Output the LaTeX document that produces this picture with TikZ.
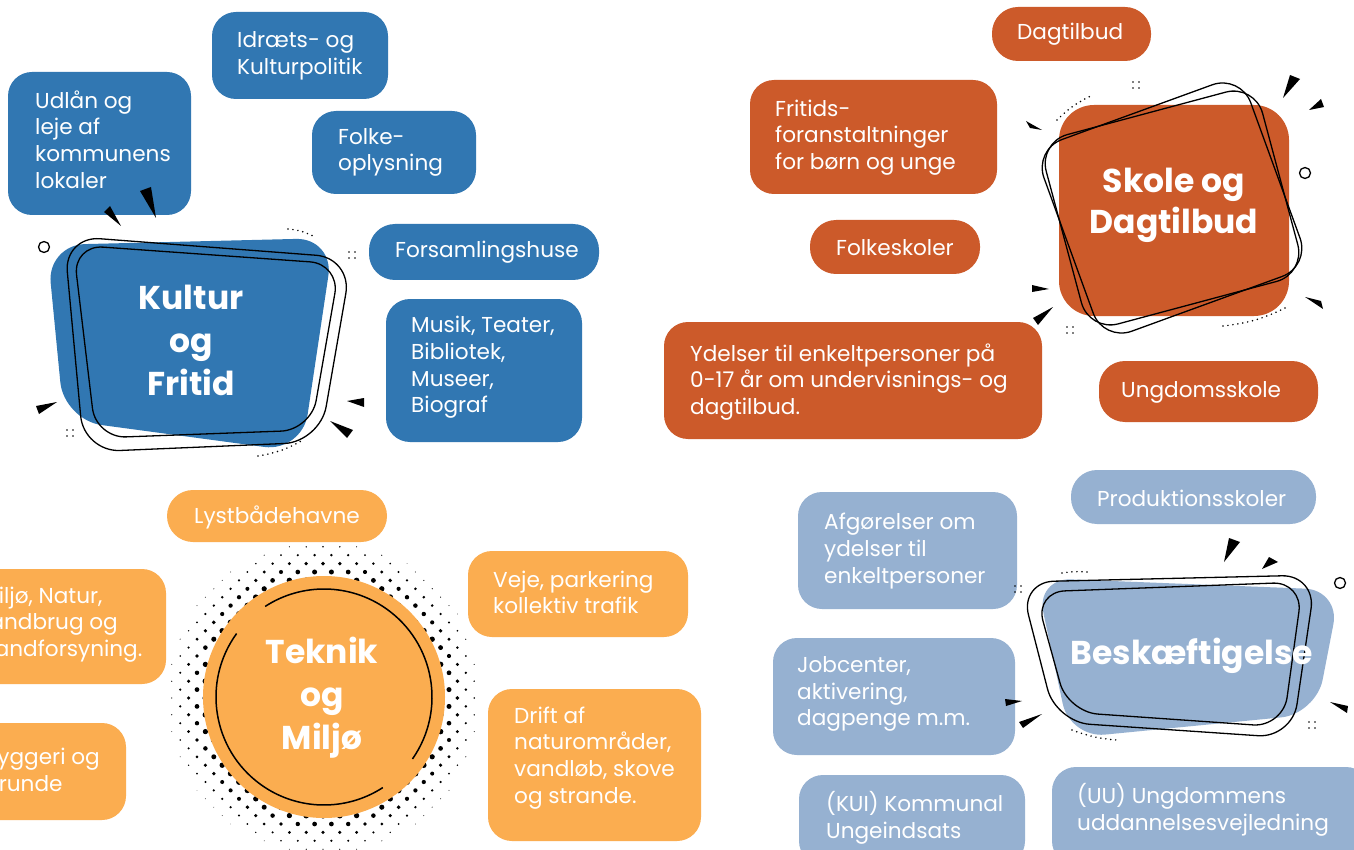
\documentclass[tikz,border=0pt]{standalone}
\usepackage{fontspec}
\setmainfont{Poppins}
\usetikzlibrary{fit}
\definecolor{kblue}{RGB}{49,119,178}
\definecolor{sorange}{RGB}{204,90,42}
\definecolor{torange}{RGB}{251,173,80}
\definecolor{bblue}{RGB}{150,177,209}
\newcommand\bodyfont{\fontsize{21.6}{26.7}\selectfont}
\newcommand\headfont{\fontsize{33}{43}\selectfont\bfseries}
\newcommand\spk[3]{\fill #1 -- #2 -- #3 -- cycle;}
\newcommand\stard[2]{\foreach \sa/\sb in {-3/-3,3/-3,-3/3,3/3}{\fill (#1+\sa,#2+\sb) circle (0.9);}}
\newcommand\tbox[6]{\node[#2, fit={#3 #4}] (#1bg) {}; \node[txt] (#1) at #5 {#6};}
\tikzset{
 boxbg/.style={inner sep=0pt, rounded corners=24},
 pillbg/.style={inner sep=0pt, rounded corners=26},
 txt/.style={text=white, font=\bodyfont, align=left, anchor=west, inner sep=0pt, yshift=-1.5pt},
 head/.style={text=white, font=\headfont, align=center, inner sep=0pt},
 frame/.style={draw=black, line width=1.3pt},
 dotarc/.style={dash pattern=on 0pt off 5pt, line cap=round, line width=1.7pt},
}
\begin{document}
\begin{tikzpicture}[x=1pt,y=-1pt]
\useasboundingbox (0,0) rectangle (1354,850);
\fill[white] (0,0) rectangle (1354,850);

% ================= Kultur og Fritid =================
\tbox{idr}{boxbg,fill=kblue}{(212,12)}{(388,99)}{(237,54.5)}{Idræts- og\\Kulturpolitik}
\tbox{udl}{boxbg,fill=kblue}{(8,72)}{(191,215)}{(35,138)}{Udlån og\\leje af\\kommunens\\lokaler}
\tbox{fol}{boxbg,fill=kblue}{(312,111)}{(476,194)}{(338,151)}{Folke-\\oplysning}
\tbox{fors}{pillbg,fill=kblue}{(369,224)}{(599,280)}{(395,251)}{Forsamlingshuse}
\tbox{mus}{boxbg,fill=kblue}{(386,299)}{(582,442)}{(411,366)}{Musik, Teater,\\Bibliotek,\\Museer,\\Biograf}

\fill[kblue, rounded corners=38] (47,245) -- (334,238) -- (302,452) -- (64,420) -- cycle;
\draw[frame, rounded corners=36] (64,236) -- (352,258) -- (320,442) -- (84,452) -- cycle;
\draw[frame, rounded corners=30] (73,245) -- (340,264) -- (311,430) -- (96,438) -- cycle;
\node[head] (kul) at (191,340) {Kultur\\og\\Fritid};
\draw[line width=1.3pt] (44,247) circle (5.5);
\spk{(121,226)}{(104,212)}{(110,206)}
\spk{(156,218)}{(140,191)}{(151,187)}
\spk{(57,402)}{(36,406)}{(39,414)}
\spk{(347,401)}{(364,398)}{(364,407)}
\spk{(330,421)}{(347,438)}{(353,430)}
\draw[dotarc] (288,229) to[bend left=10] (313,236);
\draw[dotarc] (258,456) to[bend right=10] (303,440);
\stard{352}{255}
\stard{70}{433}

% ================= Skole og Dagtilbud =================
\tbox{dag}{pillbg,fill=sorange}{(992,7)}{(1151,61)}{(1017,33)}{Dagtilbud}
\tbox{frit}{boxbg,fill=sorange}{(750,80)}{(997,194)}{(775,136)}{Fritids-\\foranstaltninger\\for børn og unge}
\tbox{fsk}{pillbg,fill=sorange}{(810,220)}{(980,274)}{(836,246)}{Folkeskoler}
\tbox{yde}{boxbg,fill=sorange}{(664,322)}{(1042,439)}{(690,380.5)}{Ydelser til enkeltpersoner på\\0-17 år om undervisnings- og\\dagtilbud.}
\tbox{ung}{pillbg,fill=sorange}{(1099,361)}{(1318,422)}{(1121,391)}{Ungdomsskole}

\fill[sorange, rounded corners=35] (1059,105) rectangle (1289,316);
\draw[frame, rounded corners=30, rotate around={15:(1172,208)}] (1060,110) rectangle (1284,306);
\draw[frame, rounded corners=30, rotate around={20:(1172,208)}] (1062,106) rectangle (1282,310);
\node[head] (sko) at (1174,205) {Skole og\\[-2pt]Dagtilbud};
\draw[line width=1.3pt] (1305,173) circle (5.5);
\spk{(1283,98)}{(1290,75)}{(1300,79)}
\spk{(1309,110)}{(1321,99)}{(1324,107)}
\spk{(1042,130)}{(1026,121)}{(1030,128)}
\spk{(1049,289)}{(1032,285)}{(1032,292)}
\spk{(1053,307)}{(1033,318)}{(1038,325)}
\spk{(1305,297)}{(1321,301)}{(1323,309)}
\draw[dotarc] (1057,120) to[bend left=10] (1093,95);
\draw[dotarc] (1223,326) to[bend right=10] (1287,307);
\stard{1136}{85}
\stard{1070}{330}

% ================= Teknik og Miljø =================
\tbox{lyst}{pillbg,fill=torange}{(167,490)}{(387,542)}{(194,516)}{Lystbådehavne}
\tbox{milj}{boxbg,fill=torange}{(-47,569)}{(166,684)}{(-20,623)}{Miljø, Natur,\\Landbrug og\\Vandforsyning.}
\tbox{bygg}{boxbg,fill=torange}{(-41,723)}{(126,820)}{(-16,771)}{Byggeri og\\grunde}
\tbox{veje}{boxbg,fill=torange}{(468,551)}{(688,637)}{(493,591)}{Veje, parkering\\kollektiv trafik}
\tbox{drift}{boxbg,fill=torange}{(488,689)}{(701,841)}{(514,756.5)}{Drift af\\naturområder,\\vandløb, skove\\og strande.}

\foreach \i in {0,...,20}{
 \foreach \j in {0,...,40}{
  \pgfmathsetmacro\px{155+16.8*\i+8.4*mod(\j,2)}
  \pgfmathsetmacro\py{530+8.4*\j}
  \pgfmathsetmacro\dd{veclen(\px-324,\py-697)}
  \ifdim\dd pt<158pt \ifdim\dd pt>115pt
   \pgfmathsetmacro\rr{0.3+2.5*(158-\dd)/37}
   \fill (\px,\py) circle (\rr);
  \fi\fi
 }}
\node[circle, fill=torange, minimum size=242, inner sep=0pt] (tekc) at (324,697) {};
\draw[line width=1.5pt] (tekc.center) ++(216:108) arc[start angle=216, end angle=57, radius=108];
\draw[line width=1.5pt] (tekc.center) ++(35:108) arc[start angle=35, end angle=-123, radius=108];
\node[head] (tek) at (322,698) {Teknik\\og\\Miljø};

% ================= Beskæftigelse =================
\tbox{prod}{pillbg,fill=bblue}{(1071,470)}{(1316,524)}{(1097,497)}{Produktionsskoler}
\tbox{afg}{boxbg,fill=bblue}{(798,492)}{(1017,609)}{(824,549.5)}{Afgørelser om\\ydelser til\\enkeltpersoner}
\tbox{job}{boxbg,fill=bblue}{(773,638)}{(1015,755)}{(797,692.5)}{Jobcenter,\\aktivering,\\dagpenge m.m.}
\tbox{kui}{boxbg,fill=bblue}{(799,775)}{(1025,865)}{(826,816)}{(KUI) Kommunal\\Ungeindsats}
\tbox{uu}{boxbg,fill=bblue}{(1052,767)}{(1370,865)}{(1077,808)}{(UU) Ungdommens\\uddannelsesvejledning}

\fill[bblue, rounded corners=35] (1036,578) -- (1340,590) -- (1316,714) -- (1070,738) -- cycle;
\draw[frame, rounded corners=34] (1020,582) -- (1316,575) -- (1292,738) -- (1056,722) -- cycle;
\draw[frame, rounded corners=30] (1035,592) -- (1303,582) -- (1283,727) -- (1068,712) -- cycle;
\node[head] (bes) at (1192,656) {Beskæftigelse};
\draw[line width=1.3pt] (1340,583) circle (5.5);
\spk{(1224,562)}{(1229,538)}{(1240,542)}
\spk{(1262,569)}{(1269,557)}{(1278,562)}
\spk{(1022,701)}{(1005,699)}{(1006,706)}
\spk{(1042,714)}{(1019,722)}{(1023,728)}
\spk{(1330,702)}{(1348,706)}{(1347,713)}
\draw[dotarc] (1062,573) to[bend left=6] (1087,572);
\draw[dotarc] (1072,730) to[bend right=8] (1117,740);
\stard{1018}{589}
\stard{1312}{725}
\end{tikzpicture}
\end{document}
